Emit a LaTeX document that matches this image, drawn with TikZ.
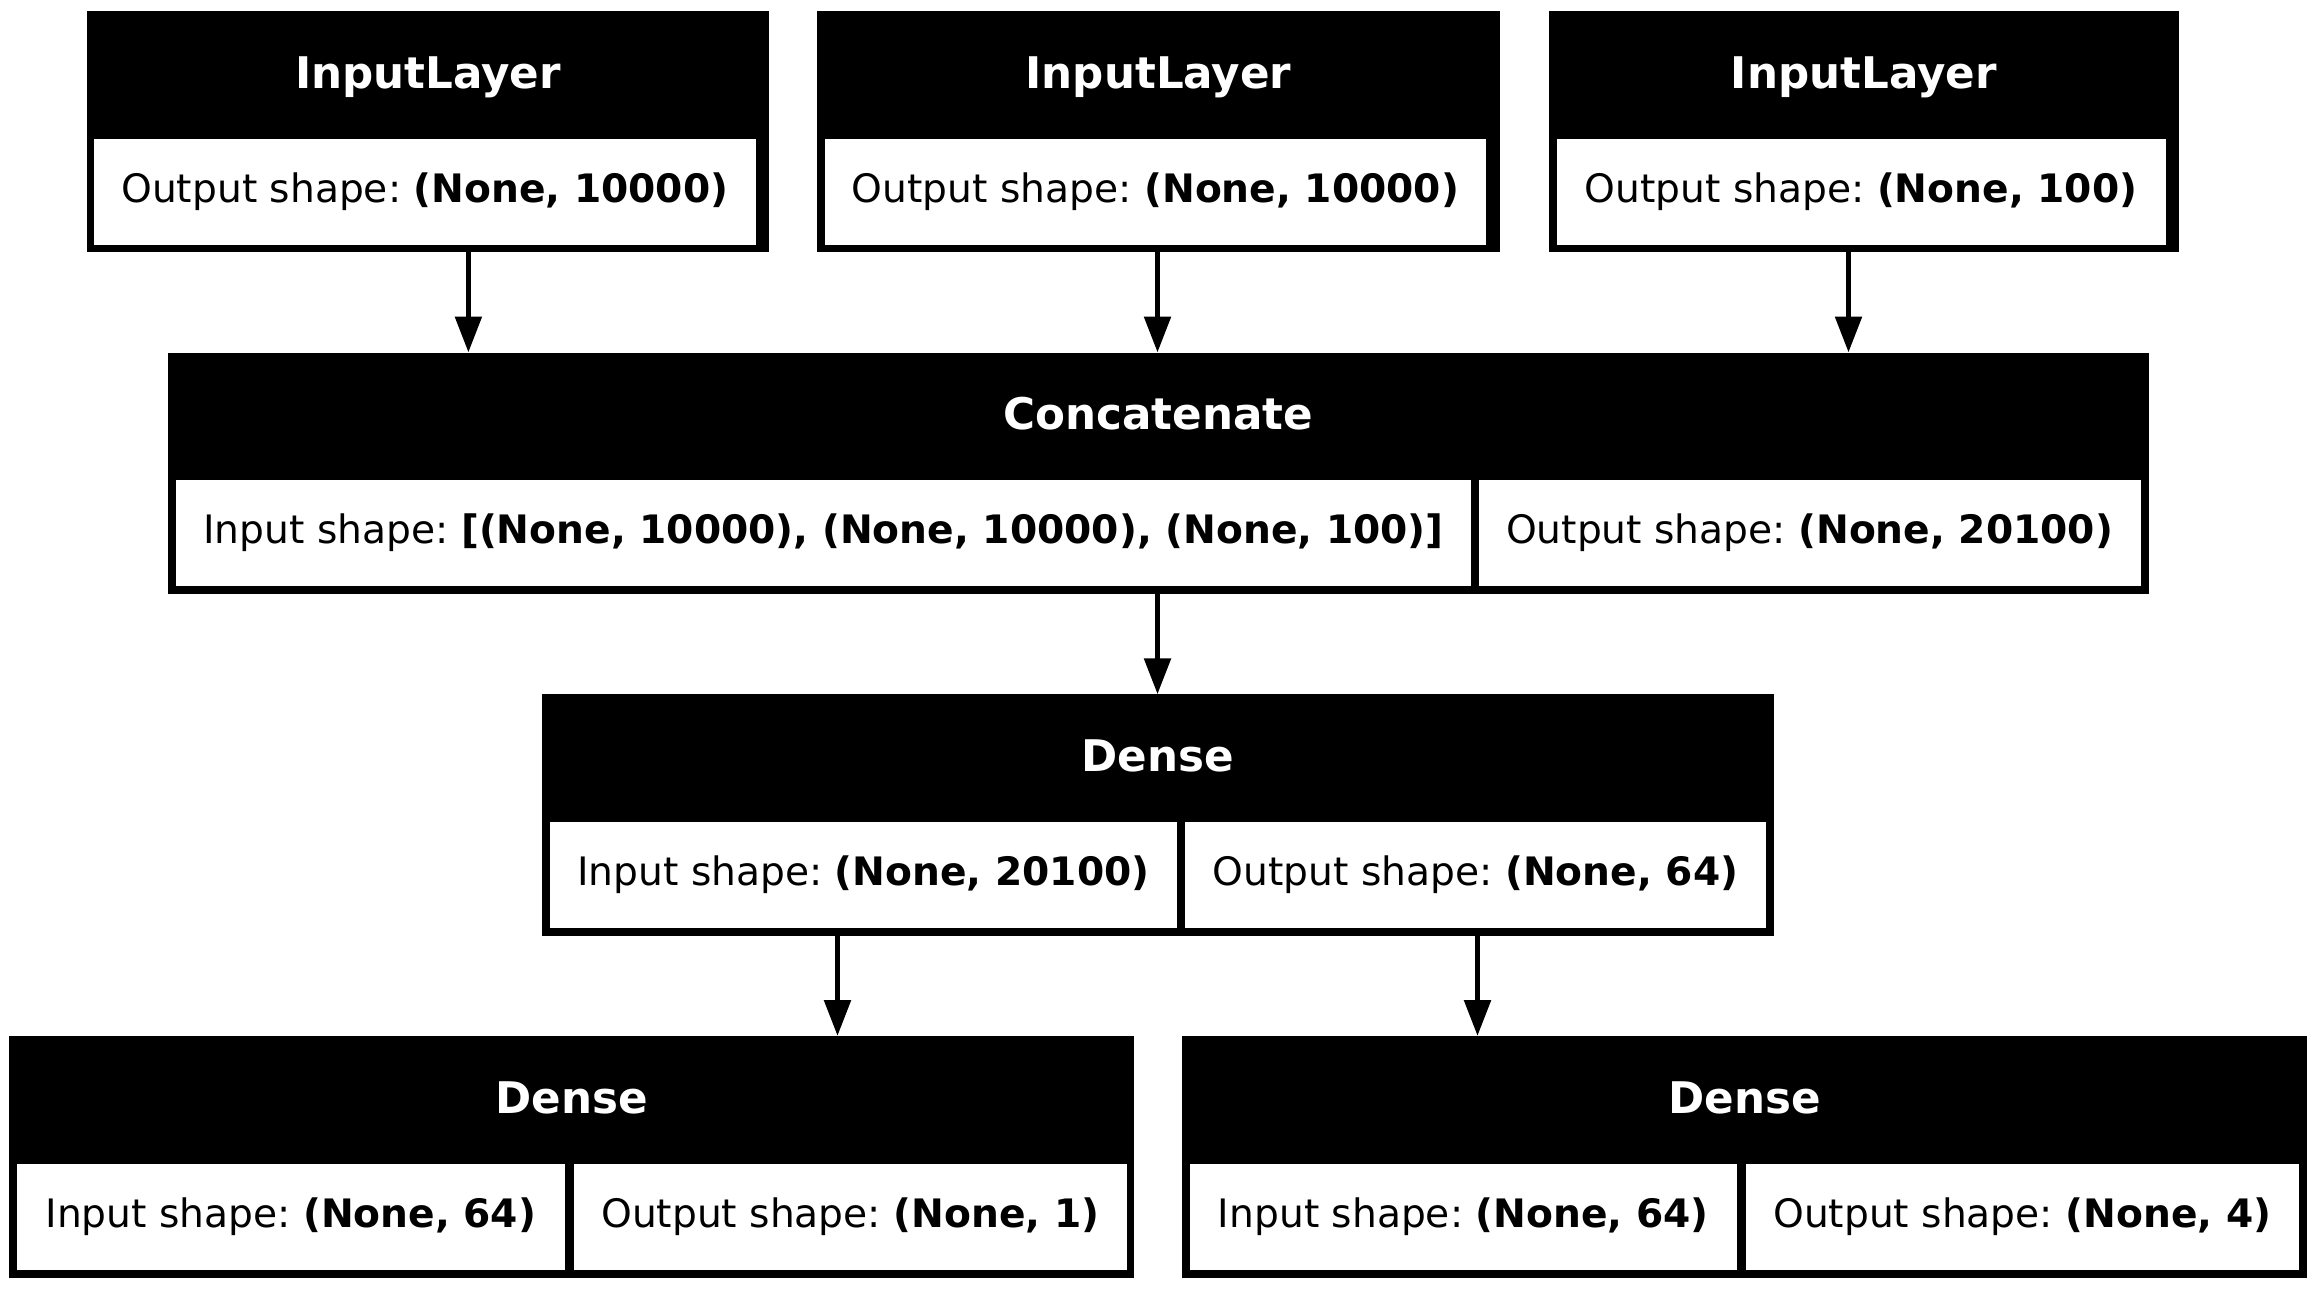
\documentclass[tikz,border=0pt]{standalone}
\usepackage{fontspec}
\setmainfont{DejaVu Sans}
\usetikzlibrary{arrows.meta,fit}
\frenchspacing
\begin{document}
\frenchspacing
\begin{tikzpicture}[x=0.3pt,y=-0.3pt,
  outerbox/.style={fill=black, draw=none, inner sep=0pt, outer sep=0pt},
  cellbox/.style={fill=white, draw=none, inner sep=0pt, outer sep=0pt},
  titletext/.style={text=white, font=\fontsize{13.08pt}{15pt}\selectfont\bfseries\frenchspacing, anchor=base, inner sep=0pt},
  bodytext/.style={text=black, font=\fontsize{11.75pt}{14pt}\selectfont\frenchspacing, anchor=base, inner sep=0pt},
  conn/.style={line width=1.65pt, -{Triangle[length=10.8pt,width=7.8pt]}}]
\fill[white] (0,0) rectangle (2317,1289);
\useasboundingbox (0,0) rectangle (2317,1289);

% ---------- Row 1: InputLayers ----------
\node[outerbox, fit={(86.7,11) (769.3,252.3)}] (il1) {};
\node[cellbox, fit={(94,138.7) (755.7,244.7)}] (il1c) {};
\node[titletext] (il1t) at (428,88.25) {InputLayer};
\node[bodytext] (il1b) at (424.85,202) {Output shape: \textbf{(None, 10000)}};

\node[outerbox, fit={(817,11) (1500,252.3)}] (il2) {};
\node[cellbox, fit={(825,138.7) (1486,244.7)}] (il2c) {};
\node[titletext] (il2t) at (1158.5,88.25) {InputLayer};
\node[bodytext] (il2b) at (1155.5,202) {Output shape: \textbf{(None, 10000)}};

\node[outerbox, fit={(1548.5,11) (2179,252.3)}] (il3) {};
\node[cellbox, fit={(1556.5,138.7) (2165.5,244.7)}] (il3c) {};
\node[titletext] (il3t) at (1863.75,88.25) {InputLayer};
\node[bodytext] (il3b) at (1861,202) {Output shape: \textbf{(None, 100)}};

% ---------- Row 2: Concatenate ----------
\node[outerbox, fit={(168,352.5) (2148.5,594)}] (cat) {};
\node[cellbox, fit={(176,480.2) (1471,586.2)}] (catl) {};
\node[cellbox, fit={(1478.5,480.2) (2140.5,586.2)}] (catr) {};
\node[titletext] (catt) at (1158.25,429.75) {Concatenate};
\node[bodytext] (catlb) at (823.5,543.5) {Input shape: \textbf{[(None, 10000), (None, 10000), (None, 100)]}};
\node[bodytext] (catrb) at (1809.5,543.5) {Output shape: \textbf{(None, 20100)}};

% ---------- Row 3: Dense ----------
\node[outerbox, fit={(541.5,694.3) (1774,935.8)}] (d1) {};
\node[cellbox, fit={(549.7,822) (1177,928)}] (d1l) {};
\node[cellbox, fit={(1185,822) (1766,928)}] (d1r) {};
\node[titletext] (d1t) at (1157.75,771.55) {Dense};
\node[bodytext] (d1lb) at (863.35,885.3) {Input shape: \textbf{(None, 20100)}};
\node[bodytext] (d1rb) at (1475.5,885.3) {Output shape: \textbf{(None, 64)}};

% ---------- Row 4: two Dense ----------
\node[outerbox, fit={(9.2,1036) (1134.2,1277.5)}] (d2) {};
\node[cellbox, fit={(16.8,1163.7) (564.8,1269.7)}] (d2l) {};
\node[cellbox, fit={(574,1163.7) (1126.5,1269.7)}] (d2r) {};
\node[titletext] (d2t) at (571.7,1113.25) {Dense};
\node[bodytext] (d2lb) at (290.8,1227) {Input shape: \textbf{(None, 64)}};
\node[bodytext] (d2rb) at (850.25,1227) {Output shape: \textbf{(None, 1)}};

\node[outerbox, fit={(1182,1036) (2307,1277.5)}] (d3) {};
\node[cellbox, fit={(1189.5,1163.7) (1737,1269.7)}] (d3l) {};
\node[cellbox, fit={(1746,1163.7) (2298.5,1269.7)}] (d3r) {};
\node[titletext] (d3t) at (1744.5,1113.25) {Dense};
\node[bodytext] (d3lb) at (1463.25,1227) {Input shape: \textbf{(None, 64)}};
\node[bodytext] (d3rb) at (2022.25,1227) {Output shape: \textbf{(None, 4)}};

% ---------- connectors ----------
\coordinate (xa) at (468.4,0);
\coordinate (xb) at (1157.5,0);
\coordinate (xc) at (1848.5,0);
\coordinate (xd) at (837.5,0);
\coordinate (xe) at (1477.5,0);
\draw[conn] (il1.south -| xa) -- (cat.north -| xa);
\draw[conn] (il2.south -| xb) -- (cat.north -| xb);
\draw[conn] (il3.south -| xc) -- (cat.north -| xc);
\draw[conn] (cat.south -| xb) -- (d1.north -| xb);
\draw[conn] (d1.south -| xd) -- (d2.north -| xd);
\draw[conn] (d1.south -| xe) -- (d3.north -| xe);
\end{tikzpicture}
\end{document}
